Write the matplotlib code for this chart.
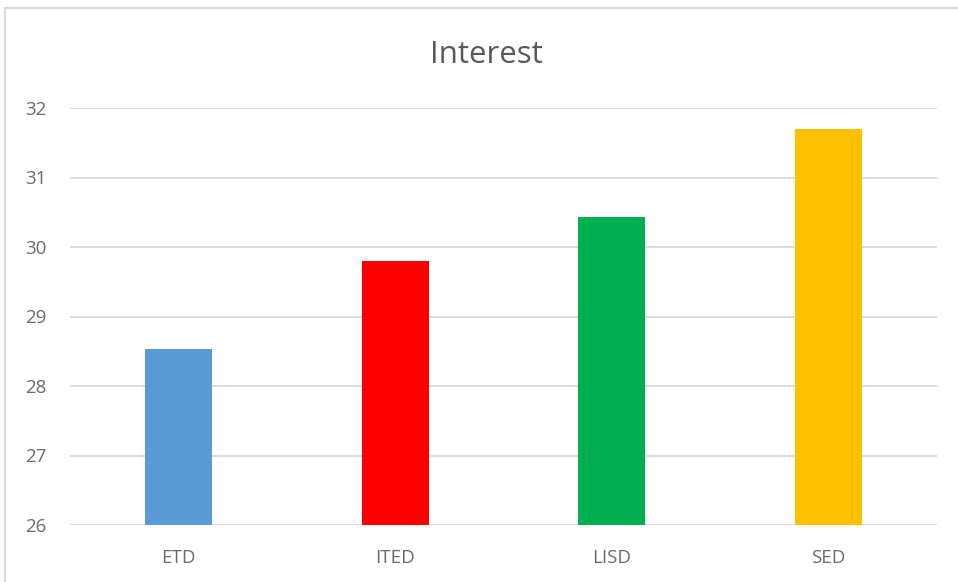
import matplotlib.pyplot as plt
from matplotlib.patches import Rectangle

# Interest by group
groups = ["ETD", "ITED", "LISD", "SED"]
interest = [28.53, 29.80, 30.43, 31.70]
colors = ["#5B9BD5", "#FF0000", "#00B050", "#FFC000"]
yticks = [26, 27, 28, 29, 30, 31, 32]

plt.rcParams['font.family'] = ['Open Sans', 'DejaVu Sans']

fig = plt.figure(figsize=(9.58, 5.82), dpi=100)
ax = fig.add_axes([70/958, 1 - 525/582, (937 - 70)/958, (525 - 108)/582])

x = range(len(groups))
ax.bar(x, [v - 26 for v in interest], bottom=26, width=0.31, color=colors, zorder=3)

ax.set_xlim(-0.5, 3.5)
ax.set_ylim(26, 32)
ax.set_yticks(yticks)
ax.set_xticks(list(x))
ax.set_xticklabels(groups)
ax.grid(axis='y', color='#D9D9D9', linewidth=1.3, zorder=0)
for s in ax.spines.values():
    s.set_visible(False)
ax.tick_params(length=0, colors='#6b6b6b', labelsize=13.5)
ax.tick_params(axis='y', pad=17)
ax.tick_params(axis='x', pad=17)

fig.text(486/958, 1 - 55/582, "Interest", ha='center', va='center',
         fontsize=22.5, color='#595959')

# chart frame
fig.patches.append(Rectangle((5/958, -0.1), 1.2, 1 - 8/582 + 0.1,
                             transform=fig.transFigure, fill=False,
                             edgecolor='#D9D9D9', linewidth=1.5))

fig.savefig("out.png", dpi=100)
